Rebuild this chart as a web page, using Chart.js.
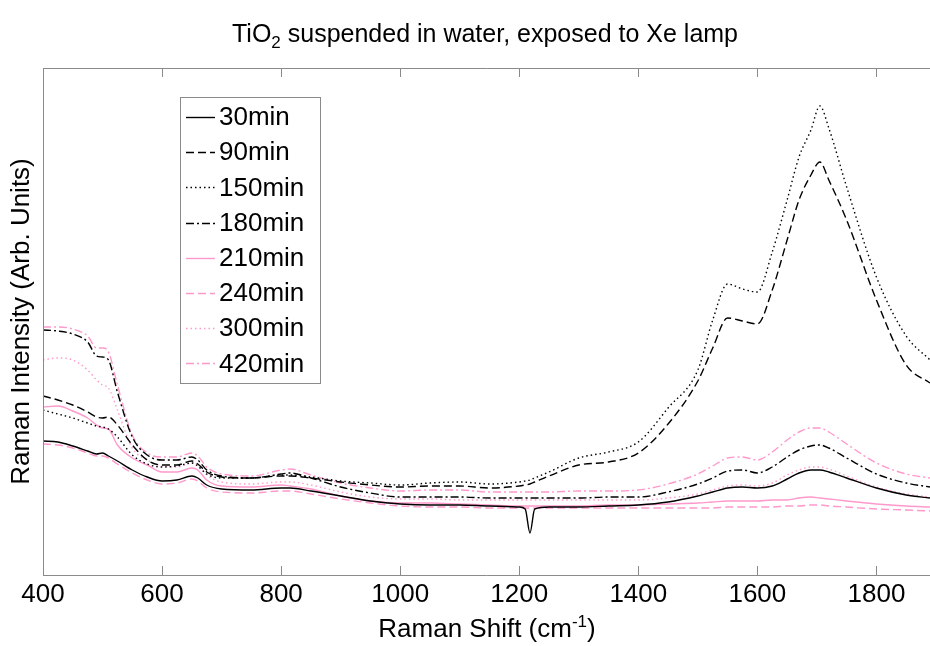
<!DOCTYPE html>
<html>
<head>
<meta charset="utf-8">
<script src="https://cdn.jsdelivr.net/npm/chart.js@4/dist/chart.umd.min.js"></script>
<style>
  html, body { margin: 0; padding: 0; background: #fff; }
  canvas { display: block; }
</style>
</head>
<body>
<canvas id="raman" width="930" height="646"></canvas>
<script>
// Raman shift grid (cm^-1)
const shifts = [400,425,450,475,490,500,510,525,550,575,600,625,650,660,675,700,750,800,815,850,
                900,950,1000,1050,1100,1150,1200,1210,1218,1226,1250,1300,1350,1400,1450,1500,1525,1550,1575,1600,
                1625,1650,1670,1690,1705,1720,1750,1800,1850,1890];

// Intensities (arbitrary units) for each exposure time
const min30  = [134,133,129,124,121,122,119,114,105,98, 94,95,99,97,90,86,85,87,87,84,
                79,74,71,70,70,69,68,66,42,66, 68,68,69,70,73,79,83,87,88,87, 89,96,102,105,105,103,97,87,80,77];
const min90  = [179,175,170,163,158,157,158,150,130,115, 110,110,114,111,103,98,97,99,99,97,
                93,90,88,89,89,87,89,90,91,93, 99,110,113,122,151,194,227,257,254,251, 285,335,375,400,413,395,355,275,210,192];
const min150 = [165,161,157,152,149,148,146,138,120,111, 108,109,112,109,101,97,97,100,100,98,
                94,92,90,92,93,91,93,94,95,97, 103,117,123,133,167,205,255,291,286,283, 323,375,418,445,469,447,388,298,239,215];
const min180 = [245,244,241,233,219,218,215,183,138,120, 115,115,118,115,105,99,97,101,102,97,
                88,82,78,78,78,77,77,77,77,77, 77,77,78,78,83,91,97,104,105,102, 108,118,125,129,130,127,117,101,92,88];
const min210 = [168,169,164,157,150,147,146,130,117,110, 103,103,107,105,95,89,88,90,89,86,
                79,74,72,72,71,70,69,69,69,69, 69,69,70,70,71,72,73,74,74,74, 75,75,77,78,77,76,74,71,69,68];
const min240 = [131,130,127,122,119,119,117,111,102,95, 91,92,96,94,87,83,82,84,84,81,
                76,72,69,68,68,67,67,67,67,67, 67,67,67,67,67,67,67,68,68,68, 68,69,69,70,70,69,68,66,65,64];
const min300 = [215,217,215,205,195,190,187,165,127,115, 109,108,112,110,100,93,91,93,93,90,
                83,78,76,76,75,75,75,75,75,75, 75,75,75,75,77,81,85,89,90,89, 92,100,105,108,108,106,99,88,81,78];
const min420 = [248,248,246,239,227,227,223,190,140,122, 118,118,122,119,108,101,99,105,106,100,
                92,87,84,85,85,83,83,83,83,83, 83,84,84,85,91,101,109,117,118,115, 123,135,143,147,147,143,131,112,101,97];

const seriesLabels = ['30min','90min','150min','180min','210min','240min','300min','420min'];
const seriesValues = [min30, min90, min150, min180, min210, min240, min300, min420];
const xTicks = [400,600,800,1000,1200,1400,1600,1800];

const BLACK = '#000000';
const PINK = '#ff99cc';
const SOLID = [], DASHED = [8,4], DOTTED = [1.5,3], DASHDOT = [8,3,2,3];
const styles = [
  [BLACK, SOLID], [BLACK, DASHED], [BLACK, DOTTED], [BLACK, DASHDOT],
  [PINK, SOLID], [PINK, DASHED], [PINK, DOTTED], [PINK, DASHDOT]
];

const FONT = "'Liberation Sans', Arial, Helvetica, sans-serif";

const datasets = seriesLabels.map((label, i) => ({
  label,
  data: shifts.map((x, j) => ({ x, y: seriesValues[i][j] })),
  borderColor: styles[i][0],
  borderDash: styles[i][1],
  borderWidth: 1.4,
  pointRadius: 0,
  fill: false,
  cubicInterpolationMode: 'monotone',
  tension: 0.4
}));

// Frame, inward tick marks, title, x-axis title and legend
const decorations = {
  id: 'decorations',
  afterDraw(chart) {
    const ctx = chart.ctx;
    const area = chart.chartArea;
    const xs = chart.scales.x;
    ctx.save();
    ctx.strokeStyle = '#8a8a8a';
    ctx.lineWidth = 1;
    ctx.setLineDash([]);
    ctx.beginPath();
    ctx.moveTo(area.left + 0.5, area.top + 0.5);
    ctx.lineTo(area.right, area.top + 0.5);
    ctx.moveTo(area.left + 0.5, area.top);
    ctx.lineTo(area.left + 0.5, area.bottom + 0.5);
    ctx.moveTo(area.left, area.bottom + 0.5);
    ctx.lineTo(area.right, area.bottom + 0.5);
    xs.ticks.forEach(t => {
      const px = Math.round(xs.getPixelForValue(t.value)) + 0.5;
      ctx.moveTo(px, area.bottom);
      ctx.lineTo(px, area.bottom - 9);
      ctx.moveTo(px, area.top);
      ctx.lineTo(px, area.top + 9);
    });
    ctx.stroke();

    // chart title with subscript
    ctx.fillStyle = '#000';
    ctx.textBaseline = 'alphabetic';
    const big = '25px ' + FONT, small = '17px ' + FONT;
    const parts = [['TiO', big, 0], ['2', small, 6], [' suspended in water, exposed to Xe lamp', big, 0]];
    drawParts(ctx, parts, 485, 42);

    // x-axis title with superscript
    const bx = '26px ' + FONT, sx = '17px ' + FONT;
    drawParts(ctx, [['Raman Shift (cm', bx, 0], ['-1', sx, -10], [')', bx, 0]], 487, 637);

    // legend
    const lx = 180, ly = 97, lw = 140, lh = 286;
    ctx.fillStyle = '#fff';
    ctx.fillRect(lx, ly, lw, lh);
    ctx.strokeStyle = '#8a8a8a';
    ctx.lineWidth = 1;
    ctx.strokeRect(lx + 0.5, ly + 0.5, lw, lh);
    ctx.font = '26px ' + FONT;
    ctx.textBaseline = 'middle';
    chart.data.datasets.forEach((ds, i) => {
      const cy = 117 + i * 35.2;
      ctx.strokeStyle = ds.borderColor;
      ctx.lineWidth = ds.borderWidth;
      ctx.setLineDash(ds.borderDash || []);
      ctx.beginPath();
      ctx.moveTo(186, Math.round(cy) + 0.5);
      ctx.lineTo(215, Math.round(cy) + 0.5);
      ctx.stroke();
      ctx.setLineDash([]);
      ctx.fillStyle = '#000';
      ctx.fillText(ds.label, 219, cy + 1);
    });
    ctx.restore();
  }
};

function drawParts(ctx, parts, cx, baseY) {
  let total = 0;
  parts.forEach(p => { ctx.font = p[1]; total += ctx.measureText(p[0]).width; });
  let x = cx - total / 2;
  parts.forEach(p => {
    ctx.font = p[1];
    ctx.fillText(p[0], x, baseY + p[2]);
    x += ctx.measureText(p[0]).width;
  });
}

new Chart(document.getElementById('raman'), {
  type: 'line',
  data: { datasets },
  options: {
    responsive: false,
    animation: false,
    events: [],
    layout: { padding: { left: 0, top: 68, right: 0, bottom: 0 } },
    plugins: { legend: { display: false }, tooltip: { enabled: false }, title: { display: false } },
    scales: {
      x: {
        type: 'linear',
        min: 400,
        max: 1890,
        afterBuildTicks(scale) { scale.ticks = xTicks.map(v => ({ value: v })); },
        afterFit(scale) { scale.height = 71; },
        grid: { display: false, drawTicks: false },
        border: { display: false },
        ticks: {
          color: '#000',
          font: { family: FONT, size: 26 },
          padding: 4,
          maxRotation: 0,
          autoSkip: false,
          callback: (v) => String(v)
        }
      },
      y: {
        min: 0,
        max: 507,
        afterFit(scale) { scale.width = 43; },
        grid: { display: false, drawTicks: false },
        border: { display: false },
        ticks: { display: false },
        title: {
          display: true,
          text: 'Raman Intensity (Arb. Units)',
          color: '#000',
          font: { family: FONT, size: 26 },
          padding: { top: 6, bottom: 0 }
        }
      }
    }
  },
  plugins: [decorations]
});
</script>
</body>
</html>
